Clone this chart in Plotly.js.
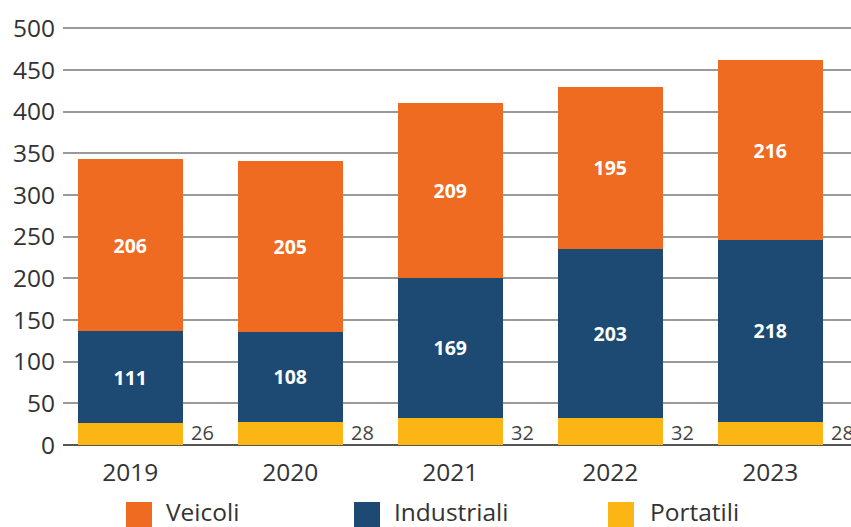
<!DOCTYPE html>
<html><head><meta charset="utf-8">
<script src="https://cdn.plot.ly/plotly-3.0.1.min.js"></script>
<style>html,body{margin:0;padding:0;background:#fff}</style>
</head><body>
<div id="chart" style="width:851px;height:527px"></div>
<script>
const years = ['2019','2020','2021','2022','2023'];
const portatili = [26, 28, 32, 32, 28];
const industriali = [111, 108, 169, 203, 218];
const veicoli = [206, 205, 209, 195, 216];
const seriesNames = ['Veicoli', 'Industriali', 'Portatili'];
const colors = {Veicoli:'#EF6B22', Industriali:'#1C4A72', Portatili:'#FBB615'};
const yTicks = [0,50,100,150,200,250,300,350,400,450,500];

const W = 851, H = 527;
const mL = 63, mR = 0, mT = 20, mB = 82;
const FONT = '"Open Sans", "Noto Sans", sans-serif';

function barTrace(name, vals, showText){
  return {
    type:'bar', name:name, x:years, y:vals, width:0.656,
    marker:{color:colors[name], line:{width:0}},
    text: showText ? vals.map(String) : undefined,
    textposition: showText ? 'inside' : 'none',
    insidetextanchor:'middle',
    textfont:{color:'#ffffff', size:19.5, family:FONT, weight:700},
    hoverinfo:'x+y+name', showlegend:false
  };
}
const data = [
  barTrace('Portatili', portatili, false),
  barTrace('Industriali', industriali, true),
  barTrace('Veicoli', veicoli, true)
];

const annotations = portatili.map((v,i)=>({
  x: i + 0.37, y: 15, xref:'x', yref:'y', text:String(v),
  showarrow:false, xanchor:'left', yanchor:'middle',
  font:{size:20, color:'#444', family:FONT}
}));

// manual legend (paper coords)
const pw = W - mL - mR, ph = H - mT - mB;
const px = p => (p - mL)/pw;
const py = p => (H - mB - p)/ph;
const legendPos = [{sq:126, tx:164},{sq:354, tx:392},{sq:608, tx:648}];
const shapes = [];
seriesNames.forEach((n,i)=>{
  const L = legendPos[i];
  shapes.push({type:'rect', xref:'paper', yref:'paper',
    x0:px(L.sq), x1:px(L.sq+26), y0:py(502), y1:py(528),
    fillcolor:colors[n], line:{width:0}});
  annotations.push({xref:'paper', yref:'paper', x:px(L.tx), y:py(511),
    text:n, showarrow:false, xanchor:'left', yanchor:'middle',
    font:{size:24.5, color:'#333', family:FONT}});
});

const layout = {
  width:W, height:H,
  margin:{l:mL, r:mR, t:mT, b:mB, pad:0},
  paper_bgcolor:'#ffffff', plot_bgcolor:'#ffffff',
  barmode:'stack', showlegend:false,
  font:{family:FONT, color:'#333'},
  xaxis:{type:'category', range:[-0.42, 4.505], showgrid:false, zeroline:false,
    showline:false, ticks:'', tickfont:{size:24.5, color:'#333', family:FONT},
    ticklabelstandoff:10, fixedrange:true},
  yaxis:{range:[0,510], tickvals:yTicks, ticktext:yTicks.map(String),
    showgrid:true, gridcolor:'#9a9a9a', gridwidth:1.7,
    zeroline:true, zerolinecolor:'#555', zerolinewidth:2,
    showline:false, ticks:'', tickfont:{size:24.5, color:'#333', family:FONT},
    ticklabelstandoff:7, fixedrange:true},
  annotations:annotations, shapes:shapes
};
Plotly.newPlot('chart', data, layout, {displayModeBar:false, staticPlot:true});
</script>
</body></html>
